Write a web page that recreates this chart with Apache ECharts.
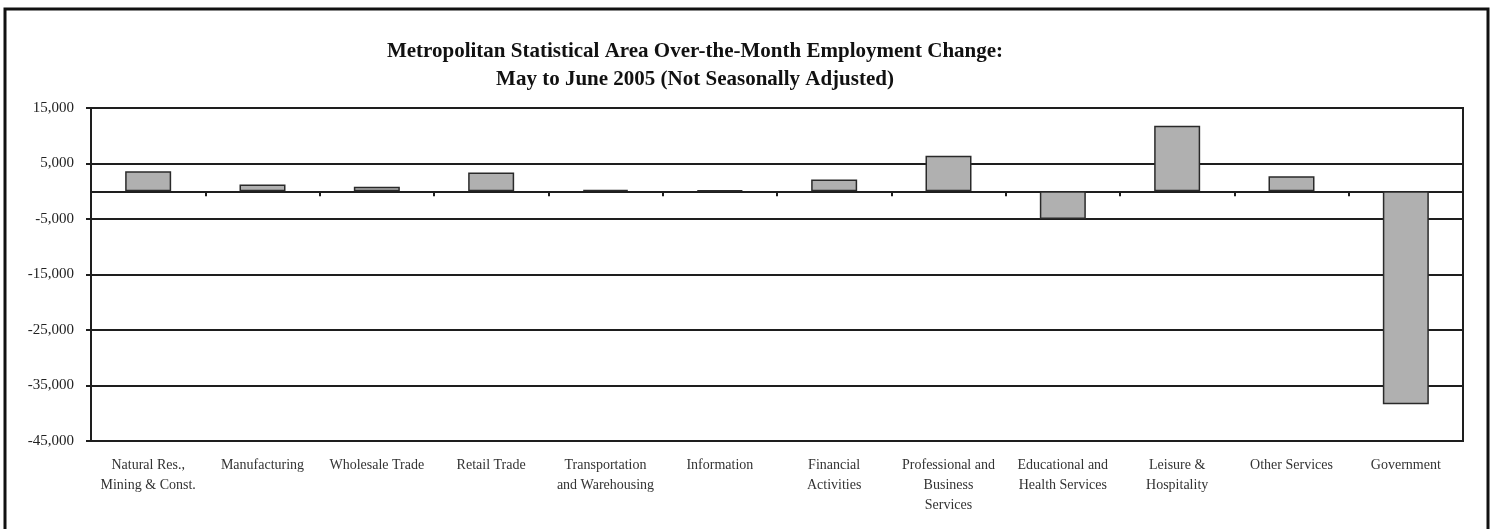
<!DOCTYPE html>
<html>
<head>
<meta charset="utf-8">
<script src="https://cdn.jsdelivr.net/npm/echarts@6/dist/echarts.min.js"></script>
<style>
  html, body { margin: 0; padding: 0; background: #fff; }
  #chart { width: 1494px; height: 529px; }
</style>
</head>
<body>
<div id="chart"></div>
<script>
const titleLines = [
  'Metropolitan Statistical Area Over-the-Month Employment Change:',
  'May to June 2005 (Not Seasonally Adjusted)'
];
const categories = [
  'Natural Res.,\nMining & Const.',
  'Manufacturing',
  'Wholesale Trade',
  'Retail Trade',
  'Transportation\nand Warehousing',
  'Information',
  'Financial\nActivities',
  'Professional and\nBusiness\nServices',
  'Educational and\nHealth Services',
  'Leisure &\nHospitality',
  'Other Services',
  'Government'
];
const employmentChange = [3600, 1200, 800, 3400, 250, 150, 2100, 6400, -5000, 11800, 2700, -38400];
const yMin = -45000;
const yMax = 15000;
const yStep = 10000;

const chart = echarts.init(document.getElementById('chart'), null, { renderer: 'canvas' });
const ink = '#1e1e1e';
const serif = '"Liberation Serif", "Times New Roman", serif';

chart.setOption({
  animation: false,
  backgroundColor: '#fff',
  title: {
    text: titleLines.join('\n'),
    left: 690,
    textAlign: 'center',
    top: 33,
    textStyle: {
      fontFamily: serif,
      fontWeight: 'bold',
      fontSize: 21,
      lineHeight: 28,
      color: '#111'
    }
  },
  graphic: [{
    type: 'rect',
    shape: { x: 5, y: 9, width: 1483, height: 530 },
    style: { fill: 'none', stroke: '#111', lineWidth: 3 },
    silent: true
  }],
  grid: {
    left: 91, right: 31, top: 108, bottom: 88,
    show: true, borderColor: ink, borderWidth: 2, backgroundColor: 'transparent'
  },
  xAxis: [{
    type: 'category',
    data: categories,
    boundaryGap: true,
    axisLine: { onZero: true, lineStyle: { color: ink, width: 2 } },
    axisTick: { show: true, interval: 0, length: 5, lineStyle: { color: ink, width: 2 } },
    axisLabel: { show: false },
    splitLine: { show: false }
  }, {
    type: 'category',
    data: categories,
    position: 'bottom',
    boundaryGap: true,
    axisLine: { show: false },
    axisTick: { show: false },
    axisLabel: {
      show: true, interval: 0, margin: 14,
      fontFamily: serif, fontSize: 14, lineHeight: 20, color: '#333'
    }
  }],
  yAxis: {
    type: 'value',
    min: yMin,
    max: yMax,
    interval: yStep,
    axisLine: { show: true, lineStyle: { color: ink, width: 2 } },
    axisTick: { show: true, length: 5, lineStyle: { color: ink, width: 2 } },
    axisLabel: {
      margin: 17,
      fontFamily: serif, fontSize: 15, color: '#222',
      formatter: v => (v < 0 ? '-' : '') + Math.abs(v).toLocaleString('en-US')
    },
    splitLine: { show: true, lineStyle: { color: ink, width: 2 } }
  },
  series: [{
    type: 'bar',
    xAxisIndex: 0,
    data: employmentChange,
    barWidth: 46,
    itemStyle: {
      color: '#b0b0b0',
      borderColor: '#2a2a2a',
      borderWidth: 1.5
    }
  }]
});
</script>
</body>
</html>
